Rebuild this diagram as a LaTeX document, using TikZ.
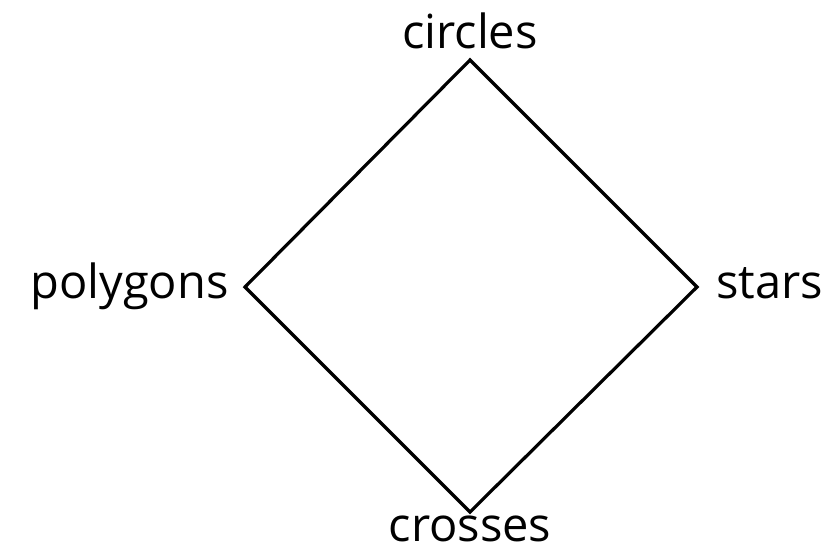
\documentclass[tikz,border=0pt]{standalone}
\usepackage{fontspec}
\setmainfont{Open Sans}
\usetikzlibrary{positioning}
\tikzset{
  edge/.style={line width=1.6pt, line join=miter},
  label/.style={font=\fontsize{23.5}{28}\selectfont, inner sep=0pt},
}

\begin{document}
\begin{tikzpicture}[x=0.5pt, y=-0.5pt]
  \useasboundingbox (0,0) rectangle (824,552);

  % Corners
  \coordinate (top) at (470,60);
  \coordinate (left) at (245,287);
  \coordinate (right) at (697,287);
  \coordinate (bottom) at (470,512);

  % Diamond
  \draw[edge] (top) -- (right) -- (bottom) -- (left) -- cycle;

  % Labels
  \node[label, anchor=base] (circles) at (470,48) {circles};
  \node[label, anchor=base] (crosses) at (470,541) {crosses};
  \node[label, anchor=base east] (polygons) at (229,298) {polygons};
  \node[label, anchor=base west] (stars) at (716,298) {stars};
\end{tikzpicture}
\end{document}
